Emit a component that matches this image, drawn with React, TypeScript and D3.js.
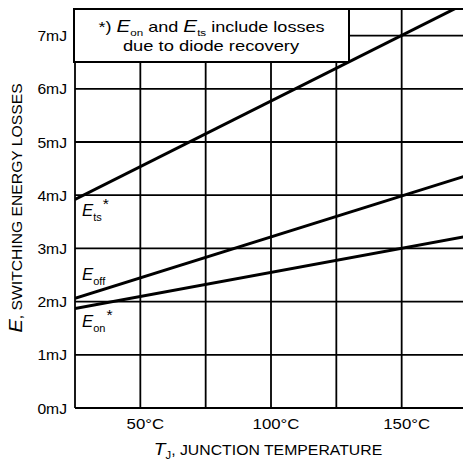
import React from "react";
import * as d3 from "d3";

const temps = [25, 175];
const eTs = [3.92, 7.62];
const eOff = [2.06, 4.37];
const eOn = [1.87, 3.23];

const yTickValues = [0, 1, 2, 3, 4, 5, 6, 7];
const xTickValues = [50, 100, 150];
const xGridValues = [25, 50, 75, 100, 125, 150, 175];

const W = 463;
const H = 462;
const FONT = "Liberation Sans, Arial, sans-serif";

function ST(props: {
  x: number;
  y: number;
  sx: number;
  anchor?: string;
  size: number;
  rotate?: number;
  children: React.ReactNode;
}) {
  const { x, y, sx, anchor = "start", size, rotate = 0, children } = props;
  return (
    <g transform={`translate(${x},${y}) rotate(${rotate}) scale(${sx},1)`}>
      <text x={0} y={0} textAnchor={anchor} fontFamily={FONT} fontSize={size} fill="#000">
        {children}
      </text>
    </g>
  );
}

export default function App() {
  const x = d3.scaleLinear().domain([25, 175]).range([75, 467]);
  const y = d3.scaleLinear().domain([0, 7.5]).range([408, 9]);
  const line = d3
    .line<[number, number]>()
    .x((d) => x(d[0]))
    .y((d) => y(d[1]));
  const series = [eTs, eOff, eOn].map((vals) =>
    temps.map((t, i) => [t, vals[i]] as [number, number])
  );

  const sub = (key: string, subTxt: string, star: boolean, px: number, py: number) => (
    <ST key={key} x={px} y={py} sx={1.05} size={16}>
      <tspan fontStyle="italic">E</tspan>
      <tspan fontSize={10.5} dy={5}>{subTxt}</tspan>
      {star ? (
        <tspan fontSize={15} dy={-12} dx={1}>*</tspan>
      ) : null}
    </ST>
  );

  return (
    <svg
      width={W}
      height={H}
      style={{ position: "absolute", left: 0, top: 0, background: "#fff" }}
    >
      <defs>
        <clipPath id="plot">
          <rect x={75} y={9} width={392} height={399} />
        </clipPath>
      </defs>
      <rect x={0} y={0} width={W} height={H} fill="#fff" />
      {/* grid */}
      {xGridValues.map((v) => (
        <line key={"vx" + v} x1={x(v)} x2={x(v)} y1={y(0)} y2={y(7.5)} stroke="#000" strokeWidth={1.8} />
      ))}
      {yTickValues.map((v) => (
        <line key={"hy" + v} x1={x(25)} x2={x(175)} y1={y(v)} y2={y(v)} stroke="#000" strokeWidth={1.8} />
      ))}
      <line x1={x(25)} x2={x(175)} y1={y(7.5)} y2={y(7.5)} stroke="#000" strokeWidth={1.8} />
      {/* series */}
      <g clipPath="url(#plot)">
        {series.map((s, i) => (
          <path key={i} d={line(s) || ""} fill="none" stroke="#000" strokeWidth={3} />
        ))}
      </g>
      {/* legend box */}
      <rect x={74} y={9} width={275} height={53} fill="#fff" stroke="#000" strokeWidth={2} />
      <ST x={211.5} y={32} sx={1.29} anchor="middle" size={14}>
        <tspan>*) </tspan>
        <tspan fontStyle="italic" fontSize={16}>E</tspan>
        <tspan fontSize={9} dy={4}>on</tspan>
        <tspan dy={-4}> and </tspan>
        <tspan fontStyle="italic" fontSize={16}>E</tspan>
        <tspan fontSize={9} dy={4}>ts</tspan>
        <tspan dy={-4}> include losses</tspan>
      </ST>
      <ST x={211} y={50.5} sx={1.31} anchor="middle" size={14}>
        due to diode recovery
      </ST>
      {/* series labels */}
      {sub("ts", "ts", true, 82, 216)}
      {sub("off", "off", false, 82, 280)}
      {sub("on", "on", true, 82, 327)}
      {/* y tick labels */}
      {yTickValues.map((v) => (
        <ST key={"yl" + v} x={67} y={y(v) + 5.5} sx={1.12} anchor="end" size={14}>
          {`${v}mJ`}
        </ST>
      ))}
      {/* x tick labels */}
      {xTickValues.map((v) => (
        <ST key={"xl" + v} x={x(v) + 5} y={429} sx={1.2} anchor="middle" size={14}>
          {`${v}°C`}
        </ST>
      ))}
      {/* x axis title */}
      <ST x={268} y={455} sx={1.13} anchor="middle" size={14}>
        <tspan fontStyle="italic" fontSize={17}>T</tspan>
        <tspan fontSize={10} dy={4}>J</tspan>
        <tspan dy={-4}>, JUNCTION TEMPERATURE</tspan>
      </ST>
      {/* y axis title */}
      <ST x={22} y={208} sx={1.12} anchor="middle" size={14} rotate={-90}>
        <tspan fontStyle="italic" fontSize={18}>E</tspan>
        <tspan>, SWITCHING ENERGY LOSSES</tspan>
      </ST>
    </svg>
  );
}
